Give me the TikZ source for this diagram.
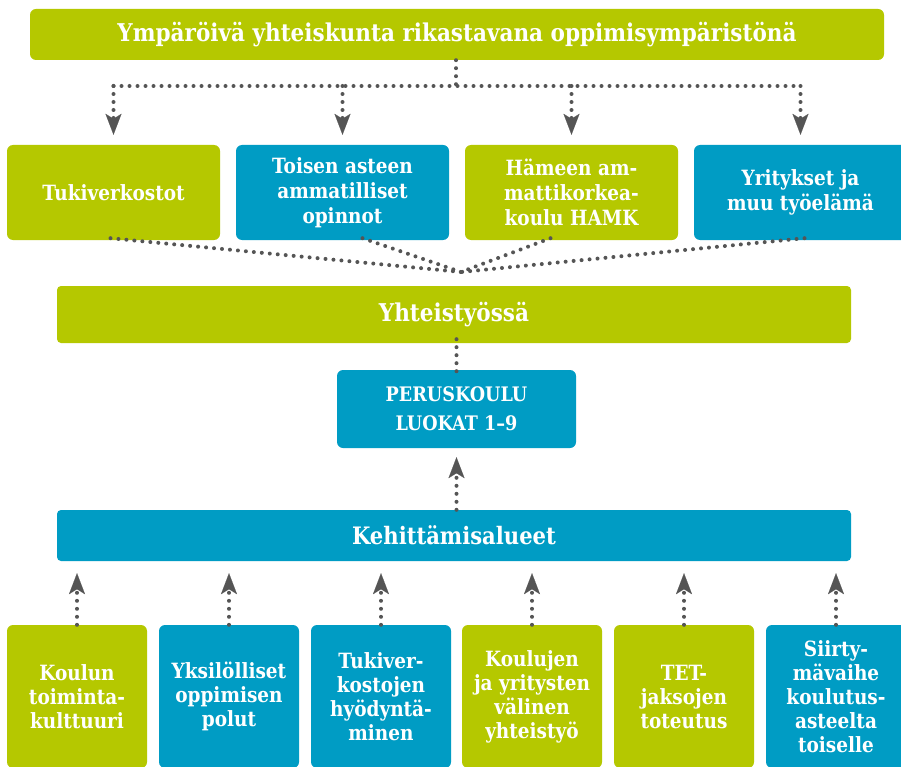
\documentclass[tikz,border=0pt]{standalone}
\usepackage{fontspec}
\setmainfont{DejaVu Serif}[FakeStretch=0.88]
\usetikzlibrary{arrows.meta}
\definecolor{lime}{RGB}{181,200,0}
\definecolor{teal}{RGB}{0,156,196}
\definecolor{dotgray}{RGB}{85,85,85}
\tikzset{
  box/.style={rectangle, rounded corners=6pt, text=white, align=center, inner sep=0pt, font=\bfseries},
  gbox/.style={box, fill=lime},
  bbox/.style={box, fill=teal},
  dotline/.style={draw=dotgray, line width=4pt, line cap=round, dash pattern=on 0pt off 8pt},
  arr/.style={dotline, -{Stealth[length=21pt,width=16pt,inset=5pt,line width=0.1pt,fill=dotgray]}},
  rowtwo/.style={minimum width=213pt, minimum height=95pt, font=\bfseries\fontsize{21}{25}\selectfont},
  rowlow/.style={minimum width=140pt, minimum height=143pt, font=\bfseries\fontsize{21}{24}\selectfont},
}
\begin{document}
\begin{tikzpicture}[x=1pt,y=-1pt]
\clip (0,0) rectangle (901,767);
\fill[white] (0,0) rectangle (901,767);
% top
\node[gbox, minimum width=854pt, minimum height=51pt, font=\bfseries\fontsize{24.5}{28}\selectfont] (top) at (457,34.5) {Ympäröivä yhteiskunta rikastavana oppimisympäristönä};
% row 2
\node[gbox, rowtwo] (b1) at (113.5,192.5) {Tukiverkostot};
\node[bbox, rowtwo] (b2) at (342.5,192.5) {Toisen asteen\\ammatilliset\\opinnot};
\node[gbox, rowtwo] (b3) at (571.5,192.5) {Hämeen am-\\mattikorkea-\\koulu HAMK};
\node[bbox, rowtwo] (b4) at (800.5,192.5) {Yritykset ja\\muu työelämä};
% middle
\node[gbox, minimum width=794pt, minimum height=57pt, rounded corners=4pt, font=\bfseries\fontsize{24.5}{28}\selectfont] (yht) at (454,314.5) {Yhteistyössä};
\node[bbox, minimum width=239pt, minimum height=78pt, font=\bfseries\fontsize{20}{29}\selectfont] (per) at (456.5,409) {PERUSKOULU\\LUOKAT 1–9};
\node[bbox, minimum width=794pt, minimum height=51pt, rounded corners=4pt, font=\bfseries\fontsize{24}{28}\selectfont] (keh) at (454,535.5) {Kehittämisalueet};
% bottom row
\node[gbox, rowlow] (k1) at (77,696.5) {Koulun\\toiminta-\\kulttuuri};
\node[bbox, rowlow] (k2) at (229,696.5) {Yksilölliset\\oppimisen\\polut};
\node[bbox, rowlow] (k3) at (381,696.5) {Tukiver-\\kostojen\\hyödyntä-\\minen};
\node[gbox, rowlow] (k4) at (532,696.5) {Koulujen\\ja yritysten\\välinen\\yhteistyö};
\node[gbox, rowlow] (k5) at (684,696.5) {TET-\\jaksojen\\toteutus};
\node[bbox, rowlow] (k6) at (836,696.5) {Siirty-\\mävaihe\\koulutus-\\asteelta\\toiselle};
% top fan-out
\coordinate (hub) at (456,86);
\draw[dotline] ([xshift=-1pt]top.south) -- (hub);
\draw[dotline] (b1.north |- hub) -- (b4.north |- hub);
\foreach \b in {b1,b2,b3,b4}
  \draw[arr, shorten >=10pt] (\b.north |- hub) -- (\b.north);
% converging lines
\coordinate (conv) at (461,272);
\draw[dotline] ([xshift=-3pt,yshift=2pt]b1.south) -- (conv);
\draw[dotline] ([xshift=20pt,yshift=2pt]b2.south) -- (conv);
\draw[dotline] ([xshift=-21pt,yshift=2pt]b3.south) -- (conv);
\draw[dotline] ([xshift=4pt,yshift=2pt]b4.south) -- (conv);
% yht -> per
\draw[dotline] ([yshift=4pt]yht.south -| per.north) -- ([yshift=-4pt]per.north);
% keh -> per
\draw[arr, shorten >=9pt] (keh.north -| per.south) -- (per.south);
% bottom arrows
\foreach \k in {k1,k2,k3,k4,k5,k6}
  \draw[arr, shorten >=12pt] (\k.north) -- (keh.south -| \k.north);
\end{tikzpicture}
\end{document}
